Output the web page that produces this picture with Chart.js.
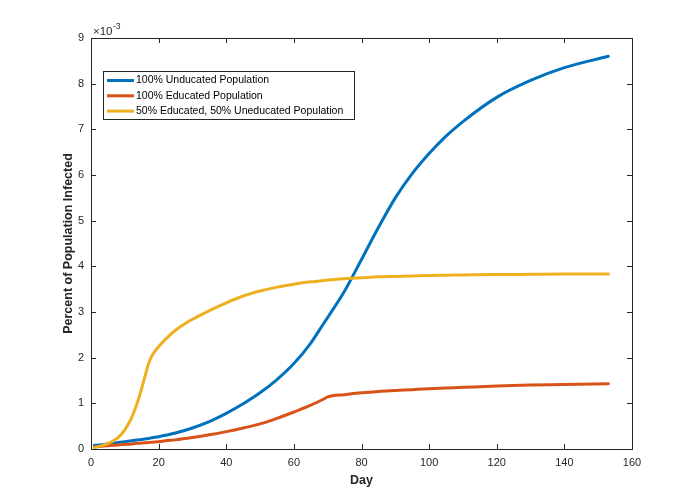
<!DOCTYPE html>
<html>
<head>
<meta charset="utf-8">
<script src="https://cdn.jsdelivr.net/npm/chart.js@4.4.1/dist/chart.umd.min.js"></script>
<style>
  html, body { margin: 0; padding: 0; background: #ffffff; }
  #wrap { width: 700px; height: 504px; }
</style>
</head>
<body>
<div id="wrap"><canvas id="c" width="700" height="504"></canvas></div>
<script>
// ---- data (y values in units of 1e-3) ----
const days       = [1,    5,    8,    10,   12,   13,   14,    15,   16,    17,   18,    20,   22,   25,   30,   35,   40,   45,   50,   55,   60,   65,   69,   70,   75,   80,   85,   90,   95,   100,  105,   110,  120,  130,  140,  153];
const uneducated = [0.08, 0.11, 0.14, 0.16, 0.18, 0.19, 0.20,  0.21, 0.22,  0.23, 0.245, 0.27, 0.30, 0.35, 0.46, 0.60, 0.78, 0.99, 1.23, 1.52, 1.87, 2.32, 2.77, 2.88, 3.46, 4.15, 4.85, 5.50, 6.03, 6.47, 6.85,  7.17, 7.70, 8.07, 8.35, 8.60];
const educated   = [0.05, 0.07, 0.09, 0.10, 0.11, 0.12, 0.125, 0.13, 0.135, 0.14, 0.15,  0.16, 0.18, 0.20, 0.25, 0.31, 0.38, 0.46, 0.55, 0.67, 0.81, 0.96, 1.10, 1.14, 1.19, 1.23, 1.26, 1.28, 1.30, 1.32, 1.335, 1.35, 1.38, 1.40, 1.41, 1.43];
const mixed      = [0.03, 0.12, 0.25, 0.42, 0.68, 0.87, 1.08,  1.33, 1.60,  1.86, 2.04,  2.24, 2.40, 2.60, 2.84, 3.03, 3.20, 3.35, 3.46, 3.545, 3.61, 3.66, 3.69, 3.70, 3.73, 3.75, 3.77, 3.78, 3.79, 3.80, 3.805, 3.81, 3.82, 3.825, 3.83, 3.83];
const seriesLabels = ['100% Unducated Population', '100% Educated Population', '50% Educated, 50% Uneducated Population'];
const xTicks = [0, 20, 40, 60, 80, 100, 120, 140, 160];
const yTicks = [0, 1, 2, 3, 4, 5, 6, 7, 8, 9];

const colors = ['#0072BD', '#D95319', '#EDB120'];
const axisColor = '#262626';
const FONT = '"Liberation Sans", Arial, Helvetica, sans-serif';

function pts(ys) { return days.map((d, i) => ({ x: d, y: ys[i] })); }

const boxPlugin = {
  id: 'matlabBox',
  afterDatasetsDraw(chart) {
    const { ctx, chartArea: a, scales } = chart;
    ctx.save();
    ctx.strokeStyle = axisColor;
    ctx.lineWidth = 1;
    const tl = 5;
    ctx.beginPath();
    xTicks.forEach(v => {
      const px = Math.round(scales.x.getPixelForValue(v)) + 0.5;
      ctx.moveTo(px, a.bottom); ctx.lineTo(px, a.bottom - tl);
      ctx.moveTo(px, a.top); ctx.lineTo(px, a.top + tl);
    });
    yTicks.forEach(v => {
      const py = Math.round(scales.y.getPixelForValue(v)) + 0.5;
      ctx.moveTo(a.left, py); ctx.lineTo(a.left + tl, py);
      ctx.moveTo(a.right, py); ctx.lineTo(a.right - tl, py);
    });
    ctx.stroke();
    ctx.strokeRect(Math.round(a.left) + 0.5, Math.round(a.top) + 0.5, Math.round(a.right - a.left), Math.round(a.bottom - a.top));
    // exponent label
    ctx.fillStyle = axisColor;
    ctx.textBaseline = 'middle';
    ctx.textAlign = 'left';
    ctx.font = '11.5px ' + FONT;
    ctx.fillText('\u00d710', a.left + 2, a.top - 6);
    const w = ctx.measureText('\u00d710').width;
    ctx.font = '8.5px ' + FONT;
    ctx.fillText('-3', a.left + 2 + w + 0.5, a.top - 11);
    ctx.restore();
  },
  afterDraw(chart) {
    const { ctx } = chart;
    ctx.save();
    const bx = 103, by = 71, bw = 251, bh = 48;
    ctx.fillStyle = '#ffffff';
    ctx.fillRect(bx, by, bw, bh);
    ctx.strokeStyle = axisColor;
    ctx.lineWidth = 1;
    ctx.strokeRect(bx + 0.5, by + 0.5, bw, bh);
    ctx.font = '10.5px ' + FONT;
    ctx.textBaseline = 'middle';
    ctx.textAlign = 'left';
    chart.data.datasets.forEach((ds, i) => {
      const y = 80.5 + i * 15.3;
      ctx.strokeStyle = ds.borderColor;
      ctx.lineWidth = 3;
      ctx.beginPath();
      ctx.moveTo(107, y); ctx.lineTo(134, y);
      ctx.stroke();
      ctx.fillStyle = '#000000';
      ctx.fillText(ds.label, 136, y);
    });
    ctx.restore();
  }
};

new Chart(document.getElementById('c'), {
  type: 'line',
  data: {
    datasets: [
      { label: seriesLabels[0], data: pts(uneducated), borderColor: colors[0], order: 2 },
      { label: seriesLabels[1], data: pts(educated), borderColor: colors[1], order: 1 },
      { label: seriesLabels[2], data: pts(mixed), borderColor: colors[2], order: 0 }
    ]
  },
  options: {
    responsive: false,
    animation: false,
    devicePixelRatio: 1,
    layout: { padding: { top: 38, right: 68, left: 0, bottom: 0 } },
    elements: {
      line: { borderWidth: 3, cubicInterpolationMode: 'monotone', fill: false, borderCapStyle: 'round' },
      point: { radius: 0, hoverRadius: 0 }
    },
    plugins: { legend: { display: false }, tooltip: { enabled: false } },
    scales: {
      x: {
        type: 'linear', min: 0, max: 160,
        afterBuildTicks(s) { s.ticks = xTicks.map(v => ({ value: v })); },
        afterFit(s) { s.height = 55; },
        grid: { display: false, drawTicks: false },
        border: { display: false },
        ticks: { padding: 7, color: axisColor, font: { size: 11, family: FONT }, maxRotation: 0 },
        title: { display: true, text: 'Day', color: axisColor, font: { size: 12.5, weight: 'bold', family: FONT }, padding: { top: 0, bottom: 16 } }
      },
      y: {
        type: 'linear', min: 0, max: 9,
        afterBuildTicks(s) { s.ticks = yTicks.map(v => ({ value: v })); },
        afterFit(s) { s.width = 91; },
        grid: { display: false, drawTicks: false },
        border: { display: false },
        ticks: { padding: 7, color: axisColor, font: { size: 11, family: FONT } },
        title: { display: true, text: 'Percent of Population Infected', color: axisColor, font: { size: 12.5, weight: 'bold', family: FONT }, padding: { top: 61, bottom: 0 } }
      }
    }
  },
  plugins: [boxPlugin]
});
</script>
</body>
</html>
